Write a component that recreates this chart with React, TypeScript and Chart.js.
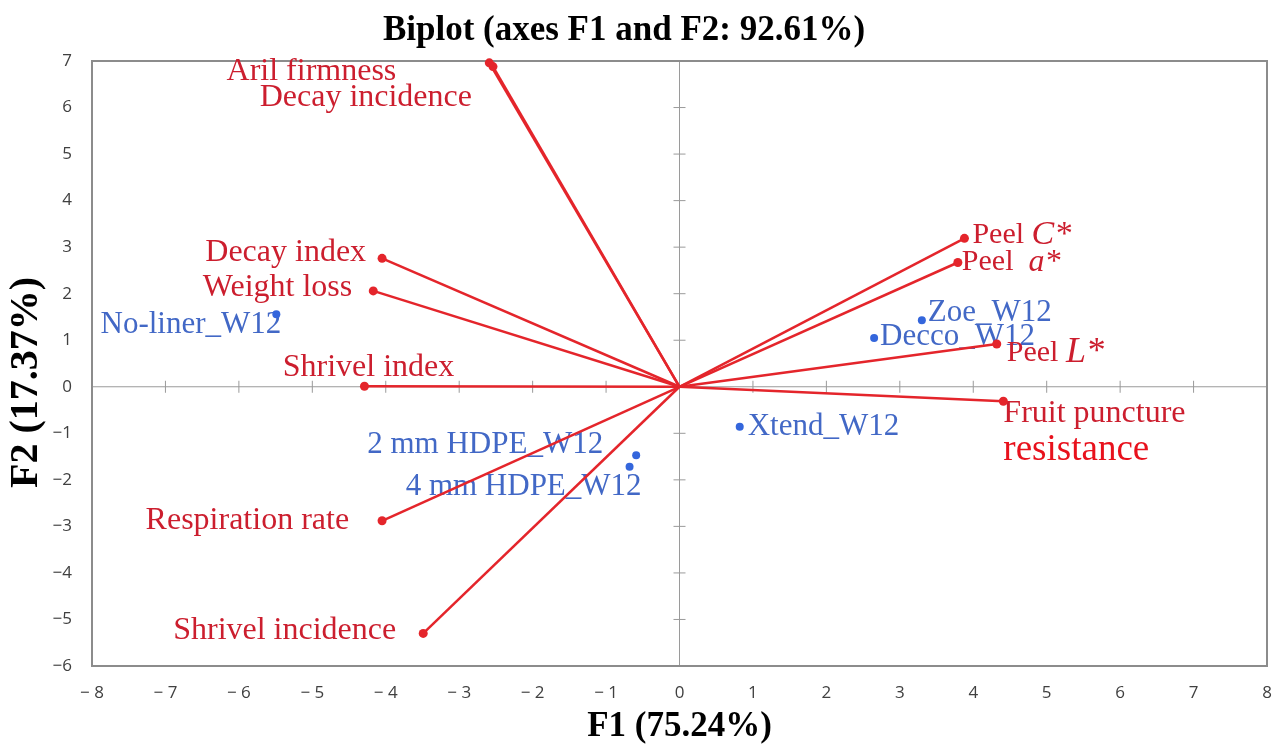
import React, { useEffect, useRef } from "react";
import { Chart, registerables } from "chart.js";

Chart.register(...registerables);

// Axis ticks
const f1Ticks = [-8, -7, -6, -5, -4, -3, -2, -1, 0, 1, 2, 3, 4, 5, 6, 7, 8];
const f2Ticks = [-6, -5, -4, -3, -2, -1, 0, 1, 2, 3, 4, 5, 6, 7];

// Variable loadings (vectors from the origin)
const variableNames = [
  "Aril firmness",
  "Decay incidence",
  "Decay index",
  "Weight loss",
  "Shrivel index",
  "Respiration rate",
  "Shrivel incidence",
  "Peel C*",
  "Peel  a*",
  "Peel L*",
  "Fruit puncture\nresistance",
];
const variableF1 = [-2.59, -2.54, -4.05, -4.17, -4.29, -4.05, -3.49, 3.88, 3.79, 4.32, 4.41];
const variableF2 = [6.96, 6.88, 2.76, 2.06, 0.01, -2.88, -5.3, 3.19, 2.67, 0.92, -0.31];

// Observations (treatments at week 12)
const observationNames = [
  "No-liner_W12",
  "Zoe_W12",
  "Decco_W12",
  "Xtend_W12",
  "2 mm HDPE_W12",
  "4 mm HDPE_W12",
];
const observationF1 = [-5.49, 3.3, 2.65, 0.82, -0.59, -0.68];
const observationF2 = [1.56, 1.43, 1.05, -0.86, -1.47, -1.72];

// Label placement: anchor side, horizontal gap (px), vertical shift (px)
type Placement = [CanvasTextAlign, number, number];
const variableLabelPlacement: Placement[] = [
  ["right", -93, 9],
  ["right", -21, 31],
  ["right", -16, -6],
  ["right", -21, -3],
  ["center", 4, -19],
  ["right", -33, 0],
  ["right", -27, -3],
  ["left", 8, -3],
  ["left", 4, 0],
  ["left", 10, 9],
  ["left", 0, 12],
];
const observationLabelPlacement: Placement[] = [
  ["right", 5, 11],
  ["left", 6, -7],
  ["left", 6, -1],
  ["left", 8, 0],
  ["right", -33, -10],
  ["right", 12, 20],
];

const SERIF = '"Liberation Serif", "Times New Roman", serif';
const VECTOR_RED = "#e4252b";
const LABEL_RED = "#cc1e2e";
const BRIGHT_RED = "#e8111c";
const OBS_BLUE = "#3466dc";
const LABEL_BLUE = "#4268c6";
const AXIS_GREY = "#9a9a9a";

type Seg = { text: string; font: string; color: string };

const italicSizes: Record<string, number> = { C: 34, a: 32, L: 36 };

function variableLines(name: string): { segs: Seg[]; dy: number }[] {
  const peel = name.match(/^(Peel\s+)(\S)\*$/);
  if (peel) {
    const size = italicSizes[peel[2]] ?? 32;
    return [
      {
        segs: [
          { text: peel[1], font: `30px ${SERIF}`, color: LABEL_RED },
          { text: peel[2] + "*", font: `italic ${size}px ${SERIF}`, color: LABEL_RED },
        ],
        dy: 0,
      },
    ];
  }
  return name.split("\n").map((line, k) => ({
    segs: [
      {
        text: line,
        font: k === 0 ? `32px ${SERIF}` : `37px ${SERIF}`,
        color: k === 0 ? LABEL_RED : BRIGHT_RED,
      },
    ],
    dy: k * 37,
  }));
}

function drawSegs(ctx: CanvasRenderingContext2D, segs: Seg[], x: number, y: number, align: CanvasTextAlign) {
  let total = 0;
  const widths = segs.map((s) => {
    ctx.font = s.font;
    const w = ctx.measureText(s.text).width;
    total += w;
    return w;
  });
  let cx = align === "left" ? x : align === "right" ? x - total : x - total / 2;
  ctx.textAlign = "left";
  ctx.textBaseline = "middle";
  segs.forEach((s, i) => {
    ctx.font = s.font;
    ctx.fillStyle = s.color;
    ctx.fillText(s.text, cx, y);
    cx += widths[i];
  });
}

const biplotDecor = {
  id: "biplotDecor",
  beforeDatasetsDraw(chart: any) {
    const { ctx, chartArea: a, scales } = chart;
    const xs = scales.x;
    const ys = scales.y;
    const x0 = xs.getPixelForValue(0);
    const y0 = ys.getPixelForValue(0);
    ctx.save();
    // zero lines with cross ticks
    ctx.strokeStyle = AXIS_GREY;
    ctx.lineWidth = 1;
    ctx.beginPath();
    ctx.moveTo(x0, a.top);
    ctx.lineTo(x0, a.bottom);
    ctx.moveTo(a.left, y0);
    ctx.lineTo(a.right, y0);
    f1Ticks.forEach((v) => {
      if (v === f1Ticks[0] || v === f1Ticks[f1Ticks.length - 1]) return;
      const px = xs.getPixelForValue(v);
      ctx.moveTo(px, y0 - 6);
      ctx.lineTo(px, y0 + 6);
    });
    f2Ticks.forEach((v) => {
      if (v === f2Ticks[0] || v === f2Ticks[f2Ticks.length - 1]) return;
      const py = ys.getPixelForValue(v);
      ctx.moveTo(x0 - 6, py);
      ctx.lineTo(x0 + 6, py);
    });
    ctx.stroke();
    // frame
    ctx.strokeStyle = "#8c8c8c";
    ctx.lineWidth = 2;
    ctx.strokeRect(a.left, a.top, a.right - a.left, a.bottom - a.top);

    // observation labels
    observationNames.forEach((name, i) => {
      const [align, dx, dy] = observationLabelPlacement[i];
      const px = xs.getPixelForValue(observationF1[i]);
      const py = ys.getPixelForValue(observationF2[i]);
      drawSegs(ctx, [{ text: name, font: `31px ${SERIF}`, color: LABEL_BLUE }], px + dx, py + dy, align);
    });
    // variable labels
    variableNames.forEach((name, i) => {
      const [align, dx, dy] = variableLabelPlacement[i];
      const px = xs.getPixelForValue(variableF1[i]);
      const py = ys.getPixelForValue(variableF2[i]);
      variableLines(name).forEach((ln) => drawSegs(ctx, ln.segs, px + dx, py + dy + ln.dy, align));
    });
    ctx.restore();
  },
  afterDraw(chart: any) {
    const { ctx, chartArea: a } = chart;
    ctx.save();
    ctx.fillStyle = "#000";
    ctx.textAlign = "center";
    ctx.textBaseline = "middle";
    ctx.font = `bold 35px ${SERIF}`;
    ctx.fillText("Biplot (axes F1 and F2: 92.61%)", chart.width / 2 - 12, 31);
    ctx.fillText("F1 (75.24%)", (a.left + a.right) / 2, a.bottom + 61);
    ctx.translate(27, (a.top + a.bottom) / 2 + 19);
    ctx.rotate(-Math.PI / 2);
    ctx.font = `bold 40px ${SERIF}`;
    ctx.fillText("F2 (17.37%)", 0, 0);
    ctx.restore();
  },
};

export default function App() {
  const canvasRef = useRef<HTMLCanvasElement | null>(null);

  useEffect(() => {
    if (!canvasRef.current) return;

    const vectorSets = variableNames.map((name, i) => ({
      label: name.replace("\n", " "),
      data: [
        { x: 0, y: 0 },
        { x: variableF1[i], y: variableF2[i] },
      ],
      showLine: true,
      borderColor: VECTOR_RED,
      borderWidth: 2.5,
      pointRadius: [0, 4.5],
      pointBackgroundColor: VECTOR_RED,
      pointBorderColor: VECTOR_RED,
      pointBorderWidth: 0,
      clip: false as any,
    }));

    const obsSet = {
      label: "Observations",
      data: observationNames.map((_, i) => ({ x: observationF1[i], y: observationF2[i] })),
      showLine: false,
      pointRadius: 4,
      pointBackgroundColor: OBS_BLUE,
      pointBorderColor: OBS_BLUE,
      pointBorderWidth: 0,
      clip: false as any,
    };

    const tickFont = { family: '"Open Sans", "DejaVu Sans", sans-serif', size: 17 };

    const chart = new Chart(canvasRef.current, {
      type: "scatter",
      data: { datasets: [...vectorSets, obsSet] as any },
      options: {
        animation: false,
        responsive: false,
        devicePixelRatio: 1,
        layout: { padding: { top: 61, right: 5, left: 0, bottom: 0 } },
        plugins: {
          legend: { display: false },
          title: { display: false },
          tooltip: { enabled: false },
        },
        scales: {
          x: {
            type: "linear",
            min: f1Ticks[0],
            max: f1Ticks[f1Ticks.length - 1],
            afterFit: (s: any) => {
              s.height = 83;
              s.paddingLeft = 0;
              s.paddingRight = 0;
            },
            afterBuildTicks: (s: any) => {
              s.ticks = f1Ticks.map((v) => ({ value: v }));
            },
            grid: { display: false, drawTicks: false },
            border: { display: false },
            ticks: {
              padding: 17,
              color: "#404040",
              font: tickFont,
              maxRotation: 0,
              autoSkip: false,
              callback: (v: any) => (Number(v) < 0 ? "\u2212 " + Math.abs(Number(v)) : String(v)),
            },
          },
          y: {
            type: "linear",
            min: f2Ticks[0],
            max: f2Ticks[f2Ticks.length - 1],
            afterFit: (s: any) => {
              s.width = 92;
              s.paddingTop = 0;
              s.paddingBottom = 0;
            },
            afterBuildTicks: (s: any) => {
              s.ticks = f2Ticks.map((v) => ({ value: v }));
            },
            grid: { display: false, drawTicks: false },
            border: { display: false },
            ticks: {
              padding: 20,
              color: "#404040",
              font: tickFont,
              autoSkip: false,
              callback: (v: any) => (Number(v) < 0 ? "\u2212" + Math.abs(Number(v)) : String(v)),
            },
          },
        },
      },
      plugins: [biplotDecor],
    });

    return () => chart.destroy();
  }, []);

  return (
    <div style={{ position: "absolute", left: 0, top: 0, width: 1272, height: 749, background: "#fff" }}>
      <canvas ref={canvasRef} width={1272} height={749} style={{ display: "block" }} />
    </div>
  );
}
